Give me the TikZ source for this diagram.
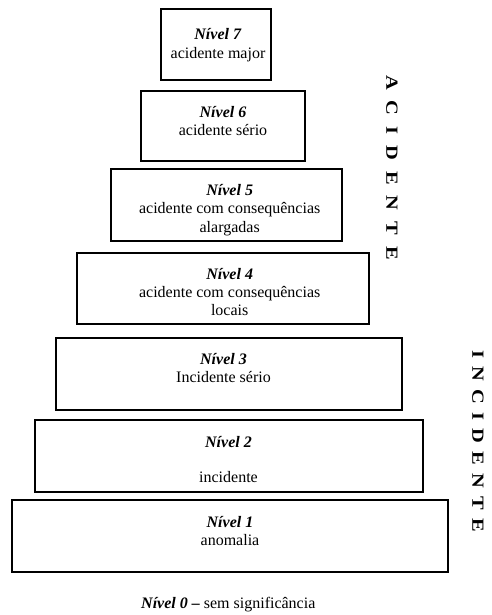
\documentclass[tikz,border=0pt]{standalone}
\usepackage{fontspec}
\setmainfont{Liberation Serif}
\usepackage{graphicx}
\begin{document}
\begin{tikzpicture}[x=1pt,y=-1pt,
  level/.style={draw=black, line width=2pt, rectangle, inner sep=0pt},
  caption/.style={align=center, font=\fontsize{16}{18.4}\selectfont, inner sep=0pt},
  side/.style={rotate=-90, inner sep=0pt, font=\fontsize{17}{17}\selectfont\bfseries}]
\useasboundingbox (0,0) rectangle (491,615);

% pyramid of levels, top to bottom
\node[level, minimum width=110pt, minimum height=71pt] (b7) at (215.5,45) {};
\node[level, minimum width=164pt, minimum height=70pt] (b6) at (223,126.3) {};
\node[level, minimum width=231pt, minimum height=72pt] (b5) at (226.2,205) {};
\node[level, minimum width=292pt, minimum height=71.6pt] (b4) at (223.3,288.5) {};
\node[level, minimum width=346pt, minimum height=71.5pt] (b3) at (229.3,373.8) {};
\node[level, minimum width=388pt, minimum height=71.7pt] (b2) at (228.7,455.8) {};
\node[level, minimum width=436.6pt, minimum height=72.3pt] (b1) at (230,536.2) {};

% level captions
\node[caption] (t7) at (218,45) {\textbf{\textit{Nível 7}}\\acidente major};
\node[caption] (t6) at (223,121) {\textbf{\textit{Nível 6}}\\acidente sério};
\node[caption] (t5) at (229.7,210) {\textbf{\textit{Nível 5}}\\acidente com consequências\\alargadas};
\node[caption] (t4) at (229.7,292) {\textbf{\textit{Nível 4}}\\acidente com consequências\\locais};
\node[caption] (t3) at (223.5,368) {\textbf{\textit{Nível 3}}\\Incidente sério};
\node[caption] (t2) at (228.5,459.5) {\textbf{\textit{Nível 2}}\\[17pt]incidente};
\node[caption] (t1) at (230,531) {\textbf{\textit{Nível 1}}\\anomalia};

% level zero, outside the pyramid
\node[caption] (t0) at (228.3,605) {\textbf{\textit{Nível 0 –}} sem significância};

% side labels, read top to bottom
\newcommand{\gapA}{\hspace{9.2pt}}
\newcommand{\gapI}{\hspace{6.9pt}}
\node[side] (acc) at (392,167.5) {\scalebox{1.2}[1]{A\gapA C\gapA I\gapA D\gapA E\gapA N\gapA T\gapA E}};
\node[side] (inc) at (478,441) {\scalebox{1.2}[1]{I\gapI N\gapI C\gapI I\gapI D\gapI E\gapI N\gapI T\gapI E}};
\end{tikzpicture}
\end{document}
